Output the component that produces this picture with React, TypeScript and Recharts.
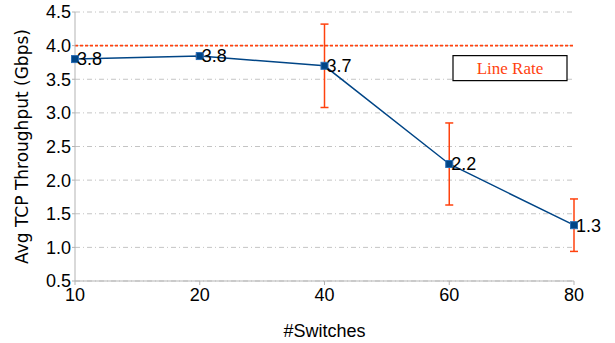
import React from "react";
import {
  LineChart,
  Line,
  XAxis,
  YAxis,
  CartesianGrid,
  ReferenceLine,
  ErrorBar,
  LabelList,
  Label,
} from "recharts";

const switches = ["10", "20", "40", "60", "80"];
const throughput = [3.8, 3.845, 3.7, 2.24, 1.33];
const errors = [0.02, 0.02, 0.62, 0.61, 0.39];
const yTicks = [0.5, 1.0, 1.5, 2.0, 2.5, 3.0, 3.5, 4.0, 4.5];
const lineRate = 4.0;

const data = switches.map((s, i) => ({
  switches: s,
  value: throughput[i],
  err: errors[i],
}));

const BLUE = "#004586";
const ORANGE = "#ff420e";
const GRID = "#b3b3b3";
const NARROW = "'Liberation Sans Narrow', 'Liberation Sans', Arial, sans-serif";

const SquareDot = (props: any) => {
  const { cx, cy } = props;
  if (cx == null || cy == null) return null;
  return (
    <rect
      x={cx - 3.5}
      y={cy - 3.5}
      width={7}
      height={7}
      fill={BLUE}
      stroke="#2a6db5"
      strokeWidth={1}
    />
  );
};

const LineRateLabel = (props: any) => {
  const vb = props.viewBox || {};
  const right = vb.x + vb.width;
  const x = right - 121;
  const y = vb.y + 10;
  return (
    <g>
      <rect x={x} y={y} width={114} height={25} fill="#ffffff" stroke="#000000" strokeWidth={1.2} />
      <text
        x={x + 57}
        y={y + 18}
        textAnchor="middle"
        fill={ORANGE}
        fontFamily="'Liberation Serif', 'Times New Roman', serif"
        fontSize={17}
      >
        Line Rate
      </text>
    </g>
  );
};

export default function App() {
  return (
    <div style={{ position: "absolute", left: 0, top: 0, width: 615, height: 343, background: "#fff" }}>
      <LineChart
        width={615}
        height={343}
        data={data}
        margin={{ top: 12, right: 41, left: 0, bottom: 0 }}
      >
        <CartesianGrid
          horizontal={true}
          vertical={false}
          stroke="#c4c4c4"
          strokeDasharray="5 3 1 3"
        />
        <XAxis
          dataKey="switches"
          height={62}
          padding={{ left: 0, right: 0 }}
          stroke={GRID}
          tickLine={{ stroke: GRID }}
          tickSize={4}
          tick={{ fill: "#000", fontSize: 18, fontFamily: NARROW }}
          tickMargin={3}
          interval={0}
        >
          <Label
            value="#Switches"
            position="insideBottom"
            offset={6}
            style={{ fill: "#000", fontSize: 18, fontFamily: NARROW }}
          />
        </XAxis>
        <YAxis
          type="number"
          domain={[0.5, 4.5]}
          ticks={yTicks}
          width={75}
          stroke={GRID}
          tickLine={{ stroke: GRID }}
          tickSize={3}
          tickMargin={1}
          tickFormatter={(v: number) => v.toFixed(1)}
          tick={{ fill: "#000", fontSize: 18, fontFamily: NARROW }}
          allowDataOverflow
        >
          <Label
            value="Avg TCP Throughput (Gbps)"
            angle={-90}
            position="insideLeft"
            offset={22}
            style={{
              fill: "#000",
              fontSize: 17,
              fontFamily: "'DejaVu Sans', 'Liberation Sans', sans-serif",
              textAnchor: "middle",
            }}
          />
        </YAxis>
        <ReferenceLine
          y={lineRate}
          stroke={ORANGE}
          strokeWidth={1.6}
          strokeDasharray="3 2"
          label={<LineRateLabel />}
        />
        <Line
          type="linear"
          dataKey="value"
          stroke={BLUE}
          strokeWidth={1.5}
          dot={<SquareDot />}
          activeDot={false}
          isAnimationActive={false}
        >
          <ErrorBar
            dataKey="err"
            direction="y"
            width={4}
            stroke={ORANGE}
            strokeWidth={1.5}
            isAnimationActive={false}
          />
          <LabelList
            dataKey="value"
            position="right"
            offset={2}
            formatter={(v: any) => Number(v).toFixed(1)}
            style={{ fill: "#000", fontSize: 18, fontFamily: NARROW }}
          />
        </Line>
      </LineChart>
    </div>
  );
}
